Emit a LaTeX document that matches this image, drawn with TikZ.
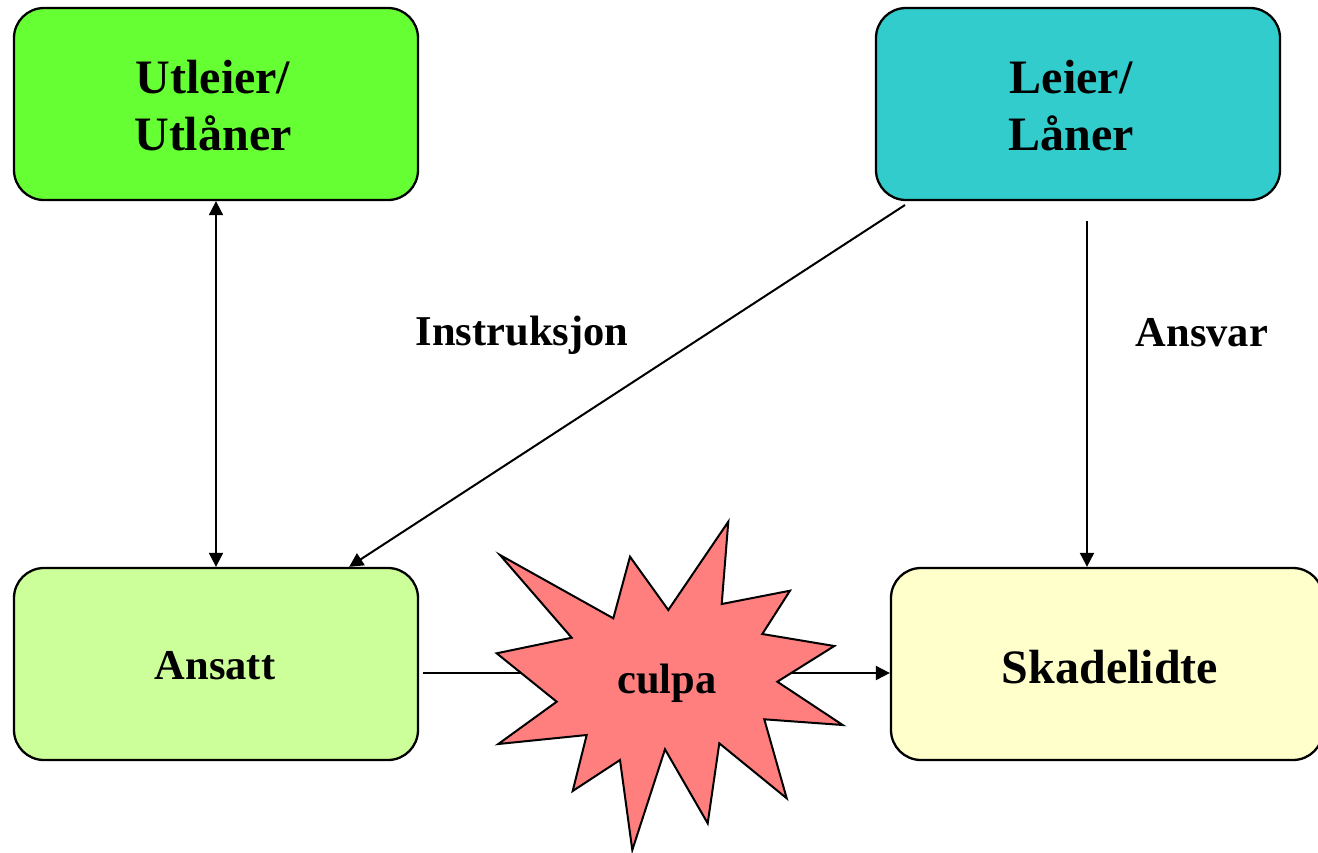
\documentclass[tikz,border=0pt]{standalone}
\usepackage{fontspec}
\setmainfont{Liberation Serif}
\usetikzlibrary{arrows.meta,calc}
\definecolor{cUt}{HTML}{66FF33}
\definecolor{cLe}{HTML}{33CCCC}
\definecolor{cAn}{HTML}{CCFF99}
\definecolor{cSk}{HTML}{FFFFCC}
\definecolor{cStar}{HTML}{FF7F7F}
\tikzset{
  boxnode/.style={draw=black, line width=2.3pt, rounded corners=30pt, minimum height=192pt, inner sep=0pt},
  bigtxt/.style={font=\fontsize{48}{57}\selectfont\bfseries, align=center},
  midtxt/.style={font=\fontsize{42.5}{50}\selectfont\bfseries},
  conn/.style={line width=2pt, draw=black, -{Triangle[length=14pt,width=14pt]}},
  connboth/.style={line width=2pt, draw=black, {Triangle[length=14pt,width=14pt]}-{Triangle[length=14pt,width=14pt]}},
}
\begin{document}
\begin{tikzpicture}[x=1pt,y=-1pt]
\useasboundingbox (0,0) rectangle (1318,852);
% boxes
\node[boxnode, fill=cUt, minimum width=404pt] (ut) at (216,104) {};
\node[bigtxt] (uttxt) at (213,106) {Utleier/\\Utlåner};
\node[boxnode, fill=cLe, minimum width=404pt] (le) at (1078,104) {};
\node[bigtxt] (letxt) at (1071,106) {Leier/\\Låner};
\node[boxnode, fill=cAn, minimum width=404pt] (an) at (216,664) {};
\node[midtxt, anchor=base] (antxt) at (215,679) {Ansatt};
\node[boxnode, fill=cSk, minimum width=432pt] (sk) at (1107,664) {};
\node[font=\fontsize{48}{57}\selectfont\bfseries, anchor=base] (sktxt) at (1110,683) {Skadelidte};
% labels
\node[midtxt, anchor=base] (ins) at (522,345) {Instruksjon};
\node[midtxt, anchor=base] (ans) at (1202,346) {Ansvar};
% connectors
\coordinate (d1) at (905,205);
\coordinate (v1) at (1087,221);
\coordinate (h1) at (423,673);
\draw[connboth] (ut.south) -- (an.north);
\draw[conn] (d1) -- ($(an.north east)+(-70,0)$);
\draw[conn] (v1) -- (v1 |- sk.north);
\draw[conn] (h1) -- (h1 -| sk.west);
% star
\draw[line width=2pt, fill=cStar, line join=miter]
  (728.3,521.7) -- (721.7,604) -- (790,590.7) -- (762.3,634) -- (834.3,646)
  -- (777.3,681.7) -- (842.7,725) -- (764.3,719.3) -- (786.7,798.3) -- (719.3,743.3)
  -- (707.7,823.3) -- (665,749.3) -- (632.3,850) -- (620,760) -- (572.7,791)
  -- (586.7,735) -- (498.3,744) -- (556.7,701.7) -- (496.7,653.3) -- (571.7,637.7)
  -- (500,555) -- (613.3,618.3) -- (630,556.7) -- (668.3,610) -- cycle;
\node[midtxt, anchor=base] (culpa) at (667,693) {culpa};
\end{tikzpicture}
\end{document}
